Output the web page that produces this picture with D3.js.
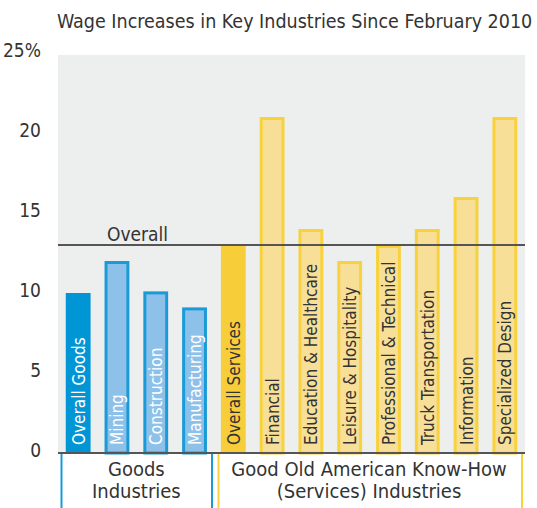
<!DOCTYPE html>
<html>
<head>
<meta charset="utf-8">
<script src="https://cdn.jsdelivr.net/npm/d3@7"></script>
<style>
  body { margin: 0; background: #fff; }
  text { font-family: "Liberation Sans Narrow", "DejaVu Sans Condensed", "Roboto", sans-serif; fill: #333; }
</style>
</head>
<body>
<svg id="chart"></svg>
<script>
'use strict';

const industries = ['Overall Goods', 'Mining', 'Construction', 'Manufacturing',
  'Overall Services', 'Financial', 'Education & Healthcare', 'Leisure & Hospitality',
  'Professional & Technical', 'Truck Transportation', 'Information', 'Specialized Design'];
const increases = [10, 12, 10.1, 9.1, 13, 21, 14, 12, 13, 14, 16, 21];
const sectors = ['goods', 'goods', 'goods', 'goods', 'services', 'services',
  'services', 'services', 'services', 'services', 'services', 'services'];
const overallIncrease = 13;
const yTicks = [0, 5, 10, 15, 20, 25];
const groups = [
  { name: 'goods', first: 'Overall Goods', last: 'Manufacturing', lines: ['Goods', 'Industries'] },
  { name: 'services', first: 'Overall Services', last: 'Specialized Design',
    lines: ['Good Old American Know-How', '(Services) Industries'] }
];

const width = 537;
const height = 508;
const plot = { left: 58, right: 525, top: 53, bottom: 453 };

const palette = {
  goods: { solid: '#0096d6', fill: '#8dc1ea', stroke: '#1a9bd8', text: '#fff' },
  services: { solid: '#f8cd3a', fill: '#f8df98', stroke: '#f8d23c', text: '#333' }
};

const svg = d3.select('#chart')
  .attr('width', width)
  .attr('height', height);

const x = d3.scaleBand()
  .domain(industries)
  .range([plot.left, plot.right])
  .paddingInner(0.36)
  .paddingOuter(0.2);

const y = d3.scaleLinear()
  .domain([0, 25])
  .range([plot.bottom, plot.top]);

const data = industries.map((name, i) => ({
  name: name, value: increases[i], sector: sectors[i], overall: name.indexOf('Overall') === 0
}));

// title
svg.append('text')
  .attr('x', 57)
  .attr('y', 28)
  .style('font-size', '19.5px')
  .text('Wage Increases in Key Industries Since February 2010');

// plot background
svg.append('rect')
  .attr('x', plot.left)
  .attr('y', plot.top + 2)
  .attr('width', plot.right - plot.left)
  .attr('height', plot.bottom - plot.top - 2)
  .style('fill', '#edeeee');

// y axis labels
const yAxis = d3.axisLeft(y)
  .tickValues(yTicks)
  .tickSize(0)
  .tickPadding(0)
  .tickFormat(d => d === 25 ? '25%' : d);

svg.append('g')
  .attr('transform', 'translate(41,0)')
  .call(yAxis)
  .call(g => g.select('.domain').remove())
  .call(g => g.selectAll('text')
    .style('font-size', '19px')
    .style('fill', '#333')
    .attr('dy', '0.2em'));

// bars
const sw = 3;
svg.selectAll('.bar')
  .data(data)
  .enter()
  .append('rect')
  .attr('class', 'bar')
  .attr('x', d => d.overall ? x(d.name) : x(d.name) + sw / 2)
  .attr('y', d => d.overall ? y(d.value) : y(d.value) + sw / 2)
  .attr('width', d => d.overall ? x.bandwidth() : x.bandwidth() - sw)
  .attr('height', d => d.overall ? y(0) - y(d.value) : y(0) - y(d.value) - sw / 2)
  .style('fill', d => d.overall ? palette[d.sector].solid : palette[d.sector].fill)
  .style('stroke', d => d.overall ? 'none' : palette[d.sector].stroke)
  .style('stroke-width', sw);

// bar labels
svg.selectAll('.bar-label')
  .data(data)
  .enter()
  .append('text')
  .attr('class', 'bar-label')
  .attr('transform', d => 'translate(' + (x(d.name) + x.bandwidth() / 2 + 6.5) + ',' + (plot.bottom - 8) + ') rotate(-90)')
  .style('font-size', '17px')
  .style('fill', d => palette[d.sector].text)
  .text(d => d.name);

// overall line
svg.append('line')
  .attr('x1', plot.left)
  .attr('x2', plot.right)
  .attr('y1', y(overallIncrease))
  .attr('y2', y(overallIncrease))
  .style('stroke', '#555')
  .style('stroke-width', 2);

svg.append('text')
  .attr('x', 107)
  .attr('y', y(overallIncrease) - 4)
  .style('font-size', '19px')
  .text('Overall');

// baseline
svg.append('line')
  .attr('x1', plot.left)
  .attr('x2', plot.right)
  .attr('y1', y(0))
  .attr('y2', y(0))
  .style('stroke', '#555')
  .style('stroke-width', 2);

// group brackets
const groupBounds = {
  goods: [61.5, 212],
  services: [218.5, 522]
};

groups.forEach(g => {
  const b = groupBounds[g.name];
  const color = g.name === 'goods' ? palette.goods.stroke : palette.services.stroke;
  b.forEach(bx => {
    svg.append('line')
      .attr('x1', bx).attr('x2', bx)
      .attr('y1', y(0) + 1).attr('y2', height)
      .style('stroke', color)
      .style('stroke-width', 2);
  });
  const cx = (x(g.first) + x(g.last) + x.bandwidth()) / 2;
  g.lines.forEach((line, i) => {
    svg.append('text')
      .attr('x', cx)
      .attr('y', 476 + i * 22)
      .style('text-anchor', 'middle')
      .style('font-size', '20px')
      .text(line);
  });
});
</script>
</body>
</html>
